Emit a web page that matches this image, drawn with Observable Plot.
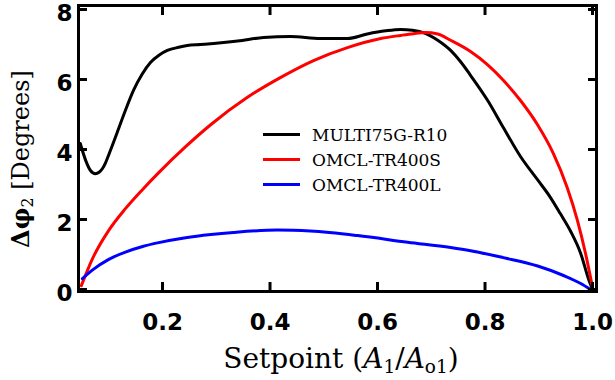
<!DOCTYPE html>
<html>
<head>
<meta charset="utf-8">
<script src="https://cdn.jsdelivr.net/npm/d3@7"></script>
<script src="https://cdn.jsdelivr.net/npm/@observablehq/plot@0.6"></script>
<style>
  html, body { margin: 0; padding: 0; background: #fff; }
  #wrap { position: relative; width: 615px; height: 380px; overflow: hidden; }
  #wrap svg { position: absolute; left: 0; top: 0; }
  .serif { font-family: "DejaVu Serif", serif; color: #000; }
  #xtitle { position: absolute; left: 341px; top: 358px; transform: translate(-50%, -50%); white-space: nowrap; font-size: 28px; }
  #ytitle { position: absolute; left: 20px; top: 159px; transform: translate(-50%, -50%) rotate(-90deg); white-space: nowrap; font-size: 24px; }
  #legend { position: absolute; left: 263px; top: 122px; font-size: 17px; }
  .lrow { display: flex; align-items: center; height: 25px; }
  .lline { width: 37px; height: 3px; margin-right: 12px; }
  sub { font-size: 0.66em; vertical-align: -0.28em; line-height: 0; }
</style>
</head>
<body>
<div id="wrap"></div>
<script>
// ---- data ----
const seriesNames = ["MULTI75G-R10", "OMCL-TR400S", "OMCL-TR400L"];
const seriesColors = ["#000000", "#ff0000", "#0000ff"];

const blackX = [0.047, 0.057, 0.066, 0.075, 0.082, 0.088, 0.094, 0.100, 0.108, 0.116, 0.130, 0.146, 0.162, 0.178, 0.194, 0.209, 0.230, 0.246, 0.270, 0.295, 0.340, 0.388, 0.438, 0.494, 0.544, 0.581, 0.615, 0.643, 0.665, 0.689, 0.712, 0.736, 0.755, 0.773, 0.805, 0.834, 0.866, 0.898, 0.920, 0.940, 0.959, 0.978, 0.993, 1.000];
const blackY = [4.17, 3.69, 3.40, 3.31, 3.35, 3.45, 3.62, 3.85, 4.17, 4.50, 5.08, 5.69, 6.15, 6.49, 6.70, 6.83, 6.92, 6.97, 7.00, 7.03, 7.10, 7.20, 7.23, 7.17, 7.17, 7.30, 7.39, 7.43, 7.41, 7.32, 7.12, 6.83, 6.50, 6.12, 5.40, 4.63, 3.80, 3.13, 2.67, 2.17, 1.67, 1.03, 0.28, 0.00];

const redX = [0.049, 0.070, 0.100, 0.131, 0.163, 0.193, 0.243, 0.289, 0.358, 0.420, 0.481, 0.544, 0.606, 0.643, 0.667, 0.689, 0.712, 0.736, 0.773, 0.805, 0.834, 0.866, 0.898, 0.927, 0.953, 0.972, 0.987, 1.000];
const redY = [0.11, 0.89, 1.69, 2.31, 2.86, 3.34, 4.08, 4.70, 5.49, 6.06, 6.54, 6.91, 7.17, 7.26, 7.31, 7.34, 7.30, 7.12, 6.80, 6.42, 5.98, 5.40, 4.70, 3.89, 2.91, 1.97, 1.03, 0.06];

const blueX = [0.051, 0.070, 0.100, 0.131, 0.163, 0.193, 0.243, 0.290, 0.332, 0.414, 0.475, 0.563, 0.656, 0.736, 0.773, 0.834, 0.898, 0.946, 0.978, 0.996];
const blueY = [0.31, 0.56, 0.86, 1.07, 1.23, 1.34, 1.48, 1.57, 1.63, 1.70, 1.67, 1.54, 1.35, 1.20, 1.11, 0.91, 0.67, 0.40, 0.17, 0.00];

const xTicks = [0.2, 0.4, 0.6, 0.8, 1.0];
const yTicks = [0, 2, 4, 6, 8];
const xTickLabels = ["0.2", "0.4", "0.6", "0.8", "1.0"];
const yTickLabels = ["0", "2", "4", "6", "8"];

// ---- build table ----
const rows = [];
[[blackX, blackY], [redX, redY], [blueX, blueY]].forEach(([xs, ys], k) => {
  xs.forEach((x, i) => rows.push({series: seriesNames[k], x, y: ys[i]}));
});

const tickFont = {fontSize: 23, fontWeight: "bold", fontFamily: "DejaVu Sans"};

const chart = Plot.plot({
  width: 615,
  height: 380,
  marginLeft: 78,
  marginRight: 19,
  marginTop: 5,
  marginBottom: 89,
  style: {background: "transparent", color: "black", overflow: "visible"},
  x: {domain: [0.0437, 1.0074]},
  y: {domain: [-0.057, 8.114]},
  color: {domain: seriesNames, range: seriesColors},
  marks: [
    Plot.line(rows, {x: "x", y: "y", z: "series", stroke: "series", strokeWidth: 3, curve: "monotone-x"}),
    Plot.frame({stroke: "black", strokeWidth: 3}),
    Plot.axisX(xTicks, {anchor: "bottom", tickSize: -9, strokeWidth: 3, tickFormat: () => "", label: null}),
    Plot.axisX(xTicks, {anchor: "top", tickSize: -9, strokeWidth: 3, tickFormat: () => "", label: null}),
    Plot.axisY(yTicks, {anchor: "left", tickSize: -9, strokeWidth: 3, tickFormat: () => "", label: null}),
    Plot.axisY(yTicks, {anchor: "right", tickSize: -9, strokeWidth: 3, tickFormat: () => "", label: null}),
    Plot.axisX(xTicks, {anchor: "bottom", tickSize: 0, tickPadding: 22, tickFormat: (d, i) => xTickLabels[i], label: null, ...tickFont}),
    Plot.axisY(yTicks, {anchor: "left", tickSize: 0, tickPadding: 6, dy: 4, tickFormat: (d, i) => yTickLabels[i], label: null, ...tickFont})
  ]
});

const wrap = document.getElementById("wrap");
wrap.appendChild(chart);

// titles
const xt = document.createElement("div");
xt.id = "xtitle"; xt.className = "serif";
xt.innerHTML = 'Setpoint (<i>A</i><sub>1</sub>/<i>A</i><sub>o1</sub>)';
wrap.appendChild(xt);

const yt = document.createElement("div");
yt.id = "ytitle"; yt.className = "serif";
yt.innerHTML = '<b>Δφ</b><sub>2</sub> [Degrees]';
wrap.appendChild(yt);

// legend
const lg = document.createElement("div");
lg.id = "legend"; lg.className = "serif";
seriesNames.forEach((name, i) => {
  const r = document.createElement("div");
  r.className = "lrow";
  r.innerHTML = `<span class="lline" style="background:${seriesColors[i]}"></span><span>${name}</span>`;
  lg.appendChild(r);
});
wrap.appendChild(lg);
</script>
</body>
</html>
